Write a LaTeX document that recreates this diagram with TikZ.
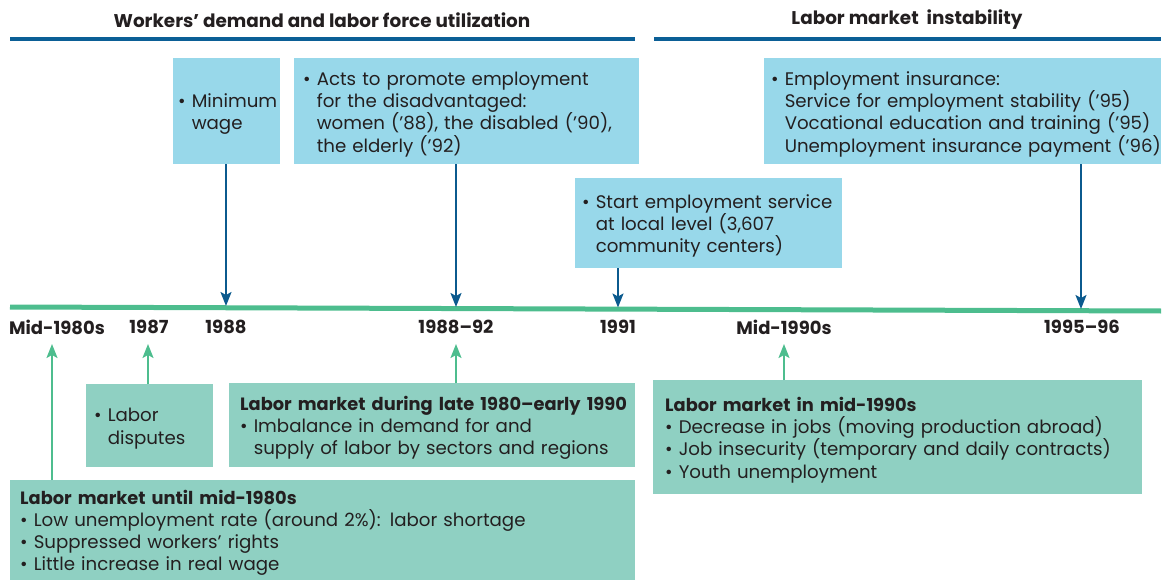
\documentclass[tikz,border=0pt]{standalone}
\usepackage{fontspec}
\setmainfont{Poppins}
\usetikzlibrary{arrows.meta}
\definecolor{txt}{HTML}{231F20}
\definecolor{hblue}{HTML}{0B5F96}
\definecolor{lblue}{HTML}{98D8EA}
\definecolor{lgreen}{HTML}{8FD0C2}
\definecolor{tgreen}{HTML}{4DBD8E}
\definecolor{ablue}{HTML}{0B5A8E}
\newcommand\bu{\textbullet\ }
\newcommand\ind{\phantom{\textbullet\ }}
\newcommand\myln[1]{\mbox{#1}}
\newcommand\myfirst[1]{\mbox{\rule{0pt}{19.5pt}#1}}
\newcommand\myttl[1]{\mbox{\rule{0pt}{19.5pt}\fontsize{17.8}{22.3}\selectfont\bfseries #1}}
\begin{document}
\begin{tikzpicture}[x=1pt,y=-1pt,
  font=\fontsize{18.2}{22.3}\selectfont\color{txt},
  boxbase/.style={anchor=north west, inner ysep=0pt, align=left, draw=none},
  bluebox/.style={boxbase, fill=lblue},
  greenbox/.style={boxbase, fill=lgreen},
  yearlbl/.style={font=\fontsize{18}{20}\selectfont\bfseries\color{txt}, anchor=center},
  headlbl/.style={font=\fontsize{18.4}{20}\selectfont\bfseries\color{txt}, anchor=center},
  headline/.style={draw=hblue, line width=4pt},
  downarr/.style={draw=ablue, line width=2pt, -{Stealth[length=14pt,width=11pt,inset=3pt]}},
  uparr/.style={draw=tgreen, line width=2pt, -{Stealth[length=14pt,width=11pt,inset=3pt]}}
]
\useasboundingbox (0,0) rectangle (1167,580);

% headers
\node[headlbl] (h1) at (322,20) {Workers’ demand and labor force utilization};
\node[headlbl] (h2) at (907,20) {Labor market\ \ instability};
\coordinate (h1a) at (10,39); \coordinate (h1b) at (635,39);
\coordinate (h2a) at (654,39); \coordinate (h2b) at (1161,39);
\draw[headline] (h1a) -- (h1b);
\draw[headline] (h2a) -- (h2b);

% timeline
\coordinate (tl0) at (10,307);
\coordinate (tl1) at (1161,311);
\draw[tgreen, line width=5pt] (tl0) -- (tl1);

% top boxes
\node[bluebox, inner xsep=5pt, text width=97pt, minimum height=106pt] (minwage) at (173,58)
  {\myfirst{\bu Minimum}\\\myln{\ind wage}};
\node[bluebox, inner xsep=9pt, text width=327pt, minimum height=106pt] (acts) at (294,58)
  {\myfirst{\bu Acts to promote employment}\\\myln{\ind for the disadvantaged:}\\\myln{\ind women (’88), the disabled (’90),}\\\myln{\ind the elderly (’92)}};
\node[bluebox, inner xsep=7pt, text width=383pt, minimum height=106pt] (einsur) at (764,58)
  {\myfirst{\bu Employment insurance:}\\\myln{\ind Service for employment stability (’95)}\\\myln{\ind Vocational education and training (’95)}\\\myln{\ind Unemployment insurance payment (’96)}};
\node[bluebox, inner xsep=7pt, text width=253pt, minimum height=90pt] (start) at (575,178)
  {\myfirst{\bu Start employment service}\\\myln{\ind at local level (3,607}\\\myln{\ind community centers)}};

% year labels
\node[yearlbl] (y1) at (57,327) {Mid-1980s};
\node[yearlbl] (y2) at (149,327) {1987};
\node[yearlbl] (y3) at (226,327) {1988};
\node[yearlbl] (y4) at (456,327) {1988–92};
\node[yearlbl] (y5) at (618,327) {1991};
\node[yearlbl] (y6) at (784,327) {Mid-1990s};
\node[yearlbl] (y7) at (1082,327) {1995–96};

% down arrow targets on the timeline
\coordinate (d1) at (226,306);
\coordinate (d2) at (456,307);
\coordinate (d3) at (618,307.5);
\coordinate (d4) at (1081,309);
\draw[downarr] (d1 |- minwage.south) -- (d1);
\draw[downarr] (d2 |- acts.south) -- (d2);
\draw[downarr] (d3 |- start.south) -- (d3);
\draw[downarr] (d4 |- einsur.south) -- (d4);

% bottom boxes
\node[greenbox, inner xsep=8pt, text width=111pt, minimum height=83pt] (disputes) at (86,384)
  {\myfirst{\bu Labor}\\\myln{\ind disputes}};
\node[greenbox, inner xsep=11pt, text width=384pt, minimum height=84pt] (late) at (229,383)
  {\myttl{Labor market during late 1980–early 1990}\\\myln{\bu Imbalance in demand for and}\\\myln{\ind supply of labor by sectors and regions}};
\node[greenbox, inner xsep=12pt, text width=465pt, minimum height=114pt] (mid90) at (653,380)
  {\myttl{Labor market in mid-1990s}\\\myln{\bu Decrease in jobs (moving production abroad)}\\\myln{\bu Job insecurity (temporary and daily contracts)}\\\myln{\bu Youth unemployment}};
\node[greenbox, inner xsep=10pt, text width=605pt, minimum height=100pt] (until) at (10,480)
  {\myttl{Labor market until mid-1980s}\\\myln{\bu Low unemployment rate (around 2\%): labor shortage}\\\myln{\bu Suppressed workers’ rights}\\\myln{\bu Little increase in real wage}};

% up arrow targets
\coordinate (u1) at (52,344);
\coordinate (u2) at (148,344);
\coordinate (u3) at (456,344);
\coordinate (u4) at (784,344);
\draw[uparr] (u1 |- until.north) -- (u1);
\draw[uparr] (u2 |- disputes.north) -- (u2);
\draw[uparr] (u3 |- late.north) -- (u3);
\draw[uparr] (u4 |- mid90.north) -- (u4);
\end{tikzpicture}
\end{document}
